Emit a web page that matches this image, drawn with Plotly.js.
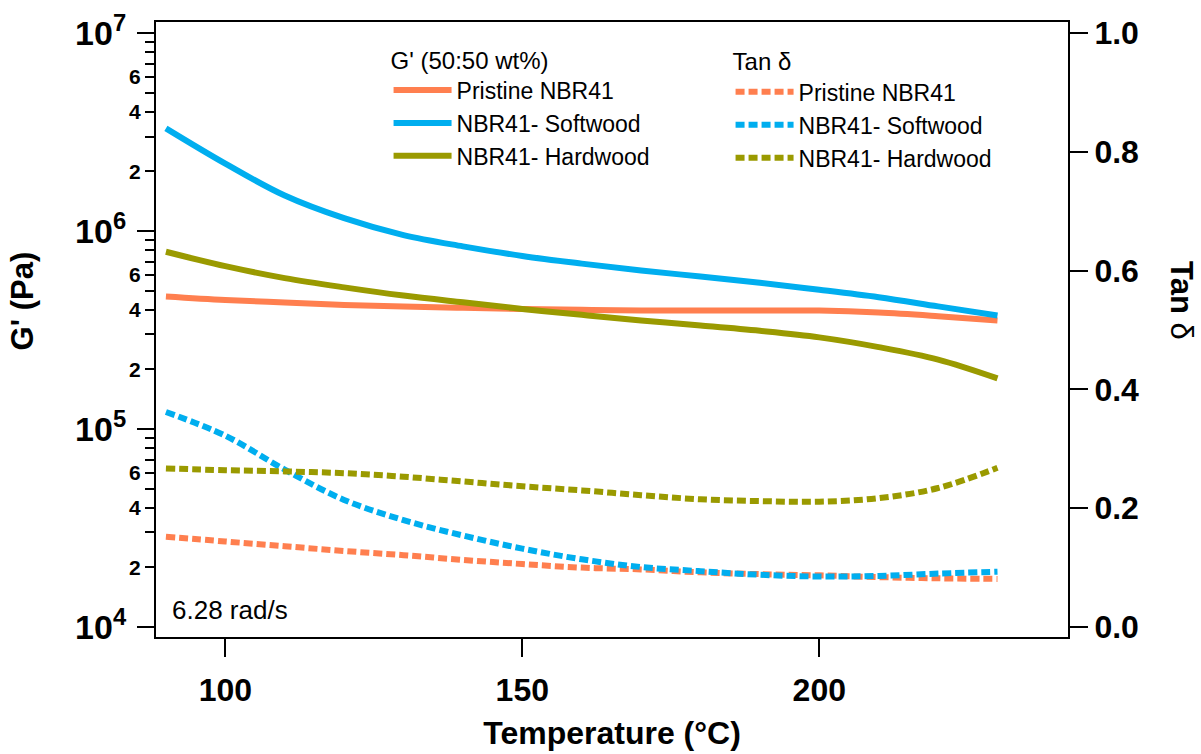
<!DOCTYPE html>
<html>
<head>
<meta charset="utf-8">
<script src="https://cdn.plot.ly/plotly-3.0.1.min.js"></script>
<style>html,body{margin:0;padding:0;background:#fff;}#chart{width:1201px;height:754px;}</style>
</head>
<body>
<div id="chart"></div>
<script>
// Temperature (°C)
const temperature = [90, 100, 110, 120, 130, 140, 150, 160, 170, 180, 190, 200, 210, 220, 230];
// Storage modulus G' (Pa)
const gPristine = [4.67e5, 4.48e5, 4.35e5, 4.23e5, 4.15e5, 4.09e5, 4.04e5, 4.00e5, 3.97e5, 3.97e5, 3.97e5, 3.96e5, 3.87e5, 3.71e5, 3.53e5];
const gSoftwood = [3.30e6, 2.19e6, 1.51e6, 1.16e6, 9.53e5, 8.36e5, 7.48e5, 6.84e5, 6.31e5, 5.89e5, 5.47e5, 5.05e5, 4.63e5, 4.16e5, 3.74e5];
const gHardwood = [7.85e5, 6.64e5, 5.78e5, 5.19e5, 4.72e5, 4.36e5, 4.04e5, 3.77e5, 3.53e5, 3.33e5, 3.13e5, 2.90e5, 2.59e5, 2.24e5, 1.80e5];
// Tan delta
const tanPristine = [0.152, 0.144, 0.136, 0.128, 0.121, 0.113, 0.106, 0.100, 0.097, 0.092, 0.089, 0.087, 0.084, 0.082, 0.081];
const tanSoftwood = [0.362, 0.322, 0.265, 0.214, 0.180, 0.154, 0.132, 0.114, 0.101, 0.094, 0.088, 0.085, 0.086, 0.090, 0.093];
const tanHardwood = [0.267, 0.264, 0.262, 0.259, 0.253, 0.245, 0.237, 0.230, 0.222, 0.215, 0.212, 0.211, 0.217, 0.234, 0.268];

const seriesNames = ["Pristine NBR41", "NBR41- Softwood", "NBR41- Hardwood"];
const colors = ["#FF7F4F", "#00AEEF", "#9A9A00"];

// Tick labels
const xTickVals = [100, 150, 200];
const decadeVals = [1e4, 1e5, 1e6, 1e7];
const decadeText = ["10<sup>4</sup>", "10<sup>5</sup>", "10<sup>6</sup>", "10<sup>7</sup>"];
const midVals = [2e4, 4e4, 6e4, 2e5, 4e5, 6e5, 2e6, 4e6, 6e6];
const midText = ["2", "4", "6", "2", "4", "6", "2", "4", "6"];
const minorVals = [3e4, 5e4, 7e4, 8e4, 9e4, 3e5, 5e5, 7e5, 8e5, 9e5, 3e6, 5e6, 7e6, 8e6, 9e6];
const tanTickVals = [0, 0.2, 0.4, 0.6, 0.8, 1.0];

const FONT = "Liberation Sans, Arial, Helvetica, sans-serif";
const gSeries = [gPristine, gSoftwood, gHardwood];
const tanSeries = [tanPristine, tanSoftwood, tanHardwood];

const traces = [];
gSeries.forEach((ys, i) => traces.push({
  x: temperature, y: ys, type: "scatter", mode: "lines", name: seriesNames[i],
  line: {color: colors[i], width: 6, shape: "spline", smoothing: 1},
  xaxis: "x", yaxis: "y", legend: "legend"
}));
tanSeries.forEach((ys, i) => traces.push({
  x: temperature, y: ys, type: "scatter", mode: "lines", name: seriesNames[i],
  line: {color: colors[i], width: 6, dash: "9px,4px", shape: "spline", smoothing: 1},
  xaxis: "x", yaxis: "y2", legend: "legend2"
}));
// invisible copy so the decade-tick axis (same scale as G') is drawn
traces.push({
  x: temperature, y: gPristine, type: "scatter", mode: "lines", opacity: 0,
  line: {width: 0}, showlegend: false, hoverinfo: "skip", xaxis: "x", yaxis: "y3"
});

const logRange = [3.949, 7.0556];
const layout = {
  width: 1201, height: 754,
  margin: {l: 156, r: 133, t: 22, b: 117, pad: 0},
  paper_bgcolor: "#fff", plot_bgcolor: "#fff",
  font: {family: FONT, color: "#000"},
  showlegend: true,
  xaxis: {
    range: [88.33, 241.87], tickvals: xTickVals, ticks: "outside", ticklen: 18, tickwidth: 2,
    tickcolor: "#000", showline: true, linewidth: 2, linecolor: "#000", mirror: true,
    showgrid: false, zeroline: false, ticklabelstandoff: 6,
    tickfont: {family: FONT, size: 32, weight: 700, color: "#000"},
    title: {text: "Temperature (°C)", font: {family: FONT, size: 32, weight: 700, color: "#000"}, standoff: 14}
  },
  yaxis: {
    type: "log", range: logRange, tickmode: "array", tickvals: midVals, ticktext: midText,
    ticks: "outside", ticklen: 9, tickwidth: 2, tickcolor: "#000",
    showline: true, linewidth: 2, linecolor: "#000", showgrid: false, zeroline: false,
    tickfont: {family: FONT, size: 21, weight: 700, color: "#000"},
    minor: {tickmode: "array", tickvals: minorVals, ticks: "outside", ticklen: 9, tickwidth: 2, tickcolor: "#000", showgrid: false}
  },
  yaxis3: {
    type: "log", range: logRange, overlaying: "y", anchor: "x", side: "left",
    tickmode: "array", tickvals: decadeVals, ticktext: decadeText,
    ticks: "outside", ticklen: 18, tickwidth: 2, tickcolor: "#000",
    showline: false, showgrid: false, zeroline: false, ticklabelstandoff: 4,
    tickfont: {family: FONT, size: 34, weight: 700, color: "#000"}
  },
  yaxis2: {
    range: [-0.0168, 1.0185], overlaying: "y", side: "right", anchor: "x",
    tickvals: tanTickVals, tickformat: ".1f", ticks: "outside", ticklen: 18, tickwidth: 2,
    tickcolor: "#000", showline: true, linewidth: 2, linecolor: "#000",
    showgrid: false, zeroline: false,
    tickfont: {family: FONT, size: 32, weight: 700, color: "#000"}
  },
  legend: {
    x: 0.255, y: 0.975, xanchor: "left", yanchor: "top", bgcolor: "rgba(0,0,0,0)",
    font: {family: FONT, size: 23, color: "#000"}, itemwidth: 58, tracegroupgap: 0,
    title: {text: "G' (50:50 wt%)", font: {family: FONT, size: 24, color: "#000"}}
  },
  legend2: {
    x: 0.63, y: 0.972, xanchor: "left", yanchor: "top", bgcolor: "rgba(0,0,0,0)",
    font: {family: FONT, size: 23, color: "#000"}, itemwidth: 58, tracegroupgap: 0,
    title: {text: "Tan δ", font: {family: FONT, size: 24, color: "#000"}}
  },
  annotations: [
    {text: "<b>G' (Pa)</b>", textangle: -90, xref: "paper", yref: "paper", x: -0.146, y: 0.547,
     xanchor: "center", yanchor: "middle", showarrow: false, font: {family: FONT, size: 31, color: "#000"}},
    {text: "<b>Tan</b> δ", textangle: 90, xref: "paper", yref: "paper", x: 1.1245, y: 0.547,
     xanchor: "center", yanchor: "middle", showarrow: false, font: {family: FONT, size: 31, color: "#000"}},
    {text: "6.28 rad/s", xref: "paper", yref: "paper", x: 0.015, y: 0.044,
     xanchor: "left", yanchor: "middle", showarrow: false, font: {family: FONT, size: 26, color: "#000"}}
  ]
};

Plotly.newPlot("chart", traces, layout, {displayModeBar: false, staticPlot: true});
</script>
</body>
</html>
